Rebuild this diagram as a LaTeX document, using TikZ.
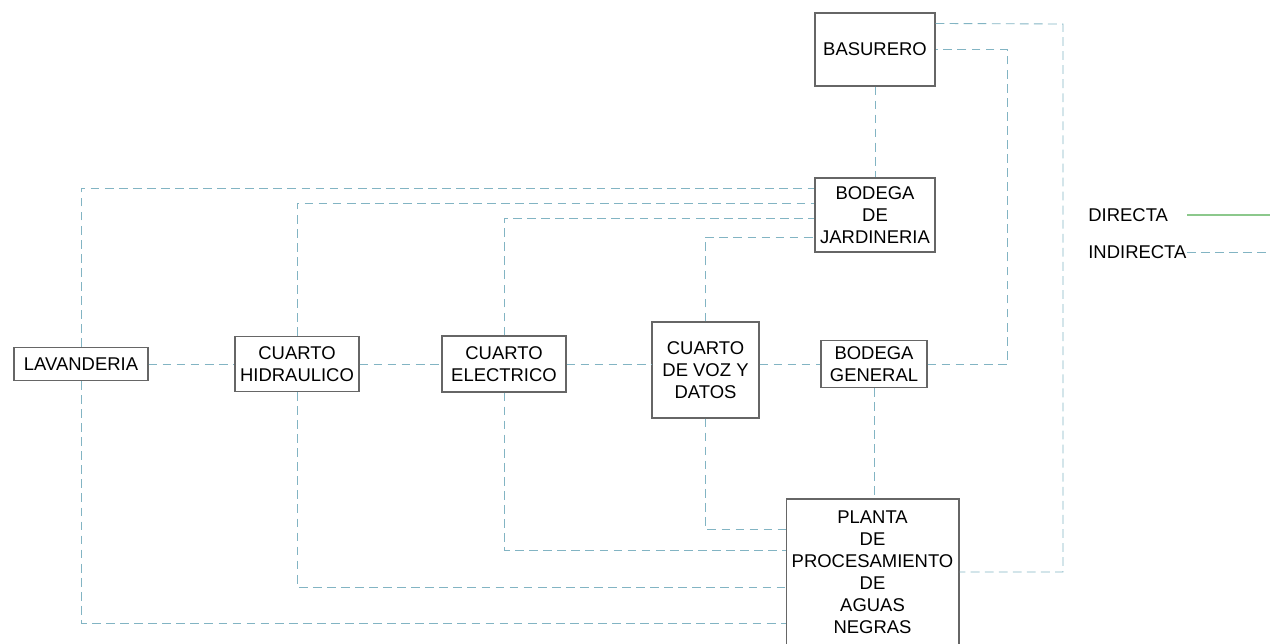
\documentclass[tikz,border=0pt]{standalone}
\usepackage{fontspec}
\setmainfont{Liberation Sans}
\usepackage{tikz}
\definecolor{linea}{RGB}{130,180,195}
\definecolor{verde}{RGB}{140,200,140}

\begin{document}
\begin{tikzpicture}[x=0.02cm, y=-0.02cm]
        \tikzstyle{sala}=[draw=black!60, line width=0.6pt, align=center, inner sep=0pt, font=\fontsize{10.5}{12.5}\selectfont];
        \tikzstyle{indirecta}=[draw=linea, line width=0.5pt, dash pattern=on 5pt off 3pt];
        \tikzstyle{leyenda}=[font=\fontsize{10.5}{12.5}\selectfont, inner sep=0pt, anchor=west];
        \useasboundingbox (0,0) rectangle (1270,643);

        \node[sala, minimum width=2.4cm, minimum height=1.46cm] (bas) at (875,49.5) {BASURERO};
        \node[sala, minimum width=2.4cm, minimum height=1.48cm] (jar) at (875,215) {BODEGA\\DE\\JARDINERIA};
        \node[sala, minimum width=2.68cm, minimum height=0.66cm] (lav) at (81,364) {LAVANDERIA};
        \node[sala, minimum width=2.48cm, minimum height=1.1cm] (hid) at (297,364) {CUARTO\\HIDRAULICO};
        \node[sala, minimum width=2.48cm, minimum height=1.12cm] (ele) at (504,364) {CUARTO\\ELECTRICO};
        \node[sala, minimum width=2.14cm, minimum height=1.92cm] (voz) at (705.5,370) {CUARTO\\DE VOZ Y\\DATOS};
        \node[sala, minimum width=2.12cm, minimum height=0.94cm] (bgen) at (874,364) {BODEGA\\GENERAL};
        \node[sala, minimum width=3.46cm, minimum height=2.92cm] (pla) at (872.5,572) {PLANTA\\DE\\PROCESAMIENTO\\DE\\AGUAS\\NEGRAS};

        % fila central
        \draw[indirecta] (lav) -- (hid);
        \draw[indirecta] (hid) -- (ele);
        \draw[indirecta] (ele) -- (ele -| voz.west);
        \draw[indirecta] (voz.east |- bgen) -- (bgen);

        % lado derecho
        \coordinate (lejos) at (1063,24);
        \draw[indirecta] (bas) -- (jar);
        \draw[indirecta] (bgen) -- (bgen |- pla.north);
        \draw[indirecta] (bgen.east) -| ([xshift=1.44cm]bas.east) -- (bas.east);
        \draw[indirecta] ([yshift=-0.22cm]bas.north east) -- (lejos) |- (pla.east);

        % hacia bodega de jardineria y planta
        \foreach \n/\a/\b in {lav/0.54/-1.02, hid/0.24/-0.30, ele/-0.06/0.44, voz/-0.44/0.86} {
            \draw[indirecta] (\n.north) |- ([yshift=\a cm]jar.west);
            \draw[indirecta] (\n.south) |- ([yshift=\b cm]pla.west);
        }

        % leyenda
        \node[leyenda] (dir) at (1088,215) {DIRECTA};
        \node[leyenda] (ind) at (1088,252) {INDIRECTA};
        \coordinate (dirfin) at (1270,215);
        \coordinate (indfin) at (1270,252);
        \draw[verde, line width=0.6pt] ([xshift=0.38cm]dir.east) -- (dirfin);
        \draw[indirecta] (ind.east) -- (indfin);
\end{tikzpicture}
\end{document}
